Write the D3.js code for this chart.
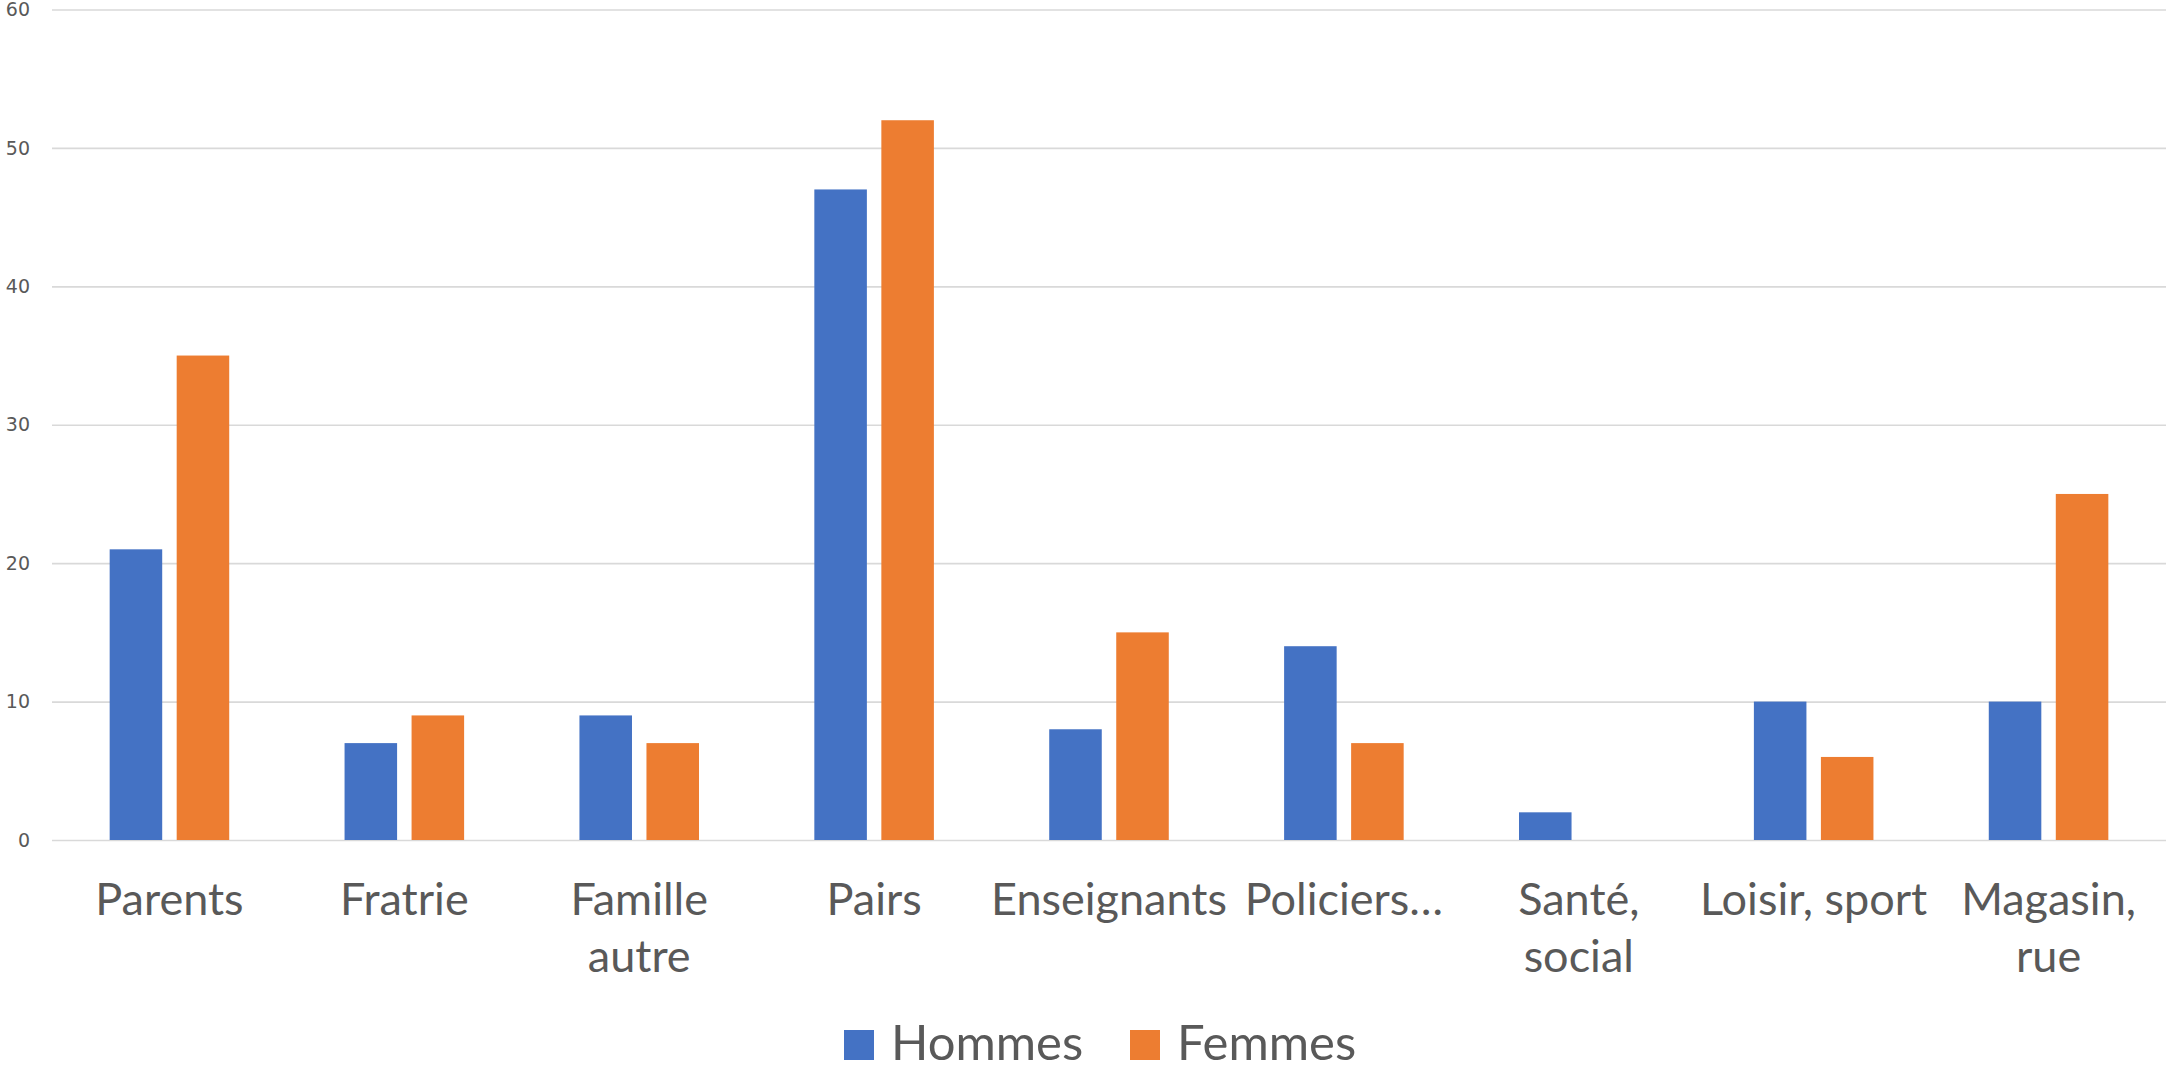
<!DOCTYPE html>
<html>
<head>
<meta charset="utf-8">
<script src="https://cdn.jsdelivr.net/npm/d3@7"></script>
<style>
  html, body { margin: 0; padding: 0; background: #ffffff; }
  svg { display: block; }
  text { font-family: Lato, "Open Sans", "Noto Sans", sans-serif; fill: #595959; }
</style>
</head>
<body>
<svg id="chart" width="2168" height="1065"></svg>
<script>
const categories = ["Parents", "Fratrie", "Famille autre", "Pairs", "Enseignants", "Policiers…", "Santé, social", "Loisir, sport", "Magasin, rue"];
const categoryLines = [["Parents"], ["Fratrie"], ["Famille", "autre"], ["Pairs"], ["Enseignants"], ["Policiers…"], ["Santé,", "social"], ["Loisir, sport"], ["Magasin,", "rue"]];
const seriesNames = ["Hommes", "Femmes"];
const hommes = [21, 7, 9, 47, 8, 14, 2, 10, 10];
const femmes = [35, 9, 7, 52, 15, 7, 0, 6, 25];
const yTicks = [0, 10, 20, 30, 40, 50, 60];
const colors = ["#4472C4", "#ED7D31"];

(function () {
const svg = d3.select("#chart");
const mLeft = 52, mRight = 2166, mTop = 9.5, mBottom = 840;

const x0 = d3.scaleBand().domain(categories).range([mLeft, mRight]).paddingInner(0.491).paddingOuter(0.2455);
const x1 = d3.scaleBand().domain(seriesNames).range([0, x0.bandwidth()]).paddingInner(0.216);
const y = d3.scaleLinear().domain([0, 60]).range([mBottom, mTop]);
const color = d3.scaleOrdinal().domain(seriesNames).range(colors);

// gridlines
const yAxis = d3.axisLeft(y).tickValues(yTicks).tickSize(-(mRight - mLeft)).tickPadding(22);
const gy = svg.append("g").attr("transform", `translate(${mLeft},0)`).call(yAxis);
gy.select(".domain").remove();
gy.selectAll(".tick line").attr("stroke", "#D9D9D9").attr("stroke-width", 1.6);
gy.selectAll(".tick text").attr("font-size", 19).attr("fill", "#595959")
  .style("font-family", "'DejaVu Sans', Verdana, sans-serif");

// bars
const data = categories.map((c, i) => ({ cat: c, values: [
  { s: seriesNames[0], v: hommes[i] },
  { s: seriesNames[1], v: femmes[i] }
]}));

const groups = svg.append("g").selectAll("g").data(data).join("g")
  .attr("transform", d => `translate(${x0(d.cat)},0)`);
groups.selectAll("rect").data(d => d.values).join("rect")
  .attr("x", d => x1(d.s))
  .attr("width", x1.bandwidth())
  .attr("y", d => y(d.v))
  .attr("height", d => y(0) - y(d.v))
  .attr("fill", d => color(d.s));

// category labels
const lab = svg.append("g").selectAll("text").data(categories).join("text")
  .attr("text-anchor", "middle")
  .attr("font-size", 45)
  .attr("transform", d => `translate(${x0(d) + x0.bandwidth() / 2},915)`);
lab.each(function(d, i) {
  const t = d3.select(this);
  categoryLines[i].forEach((line, j) => {
    t.append("tspan").attr("x", 0).attr("y", j * 57).text(line);
  });
});

// legend
const legend = svg.append("g");
const legendX = [844, 1130];
seriesNames.forEach((s, i) => {
  const g = legend.append("g").attr("transform", `translate(${legendX[i]},0)`);
  g.append("rect").attr("x", 0).attr("y", 1030).attr("width", 30).attr("height", 30).attr("fill", color(s));
  g.append("text").attr("x", 47).attr("y", 1060).attr("font-size", 49).text(s);
});
})();
</script>
</body>
</html>
